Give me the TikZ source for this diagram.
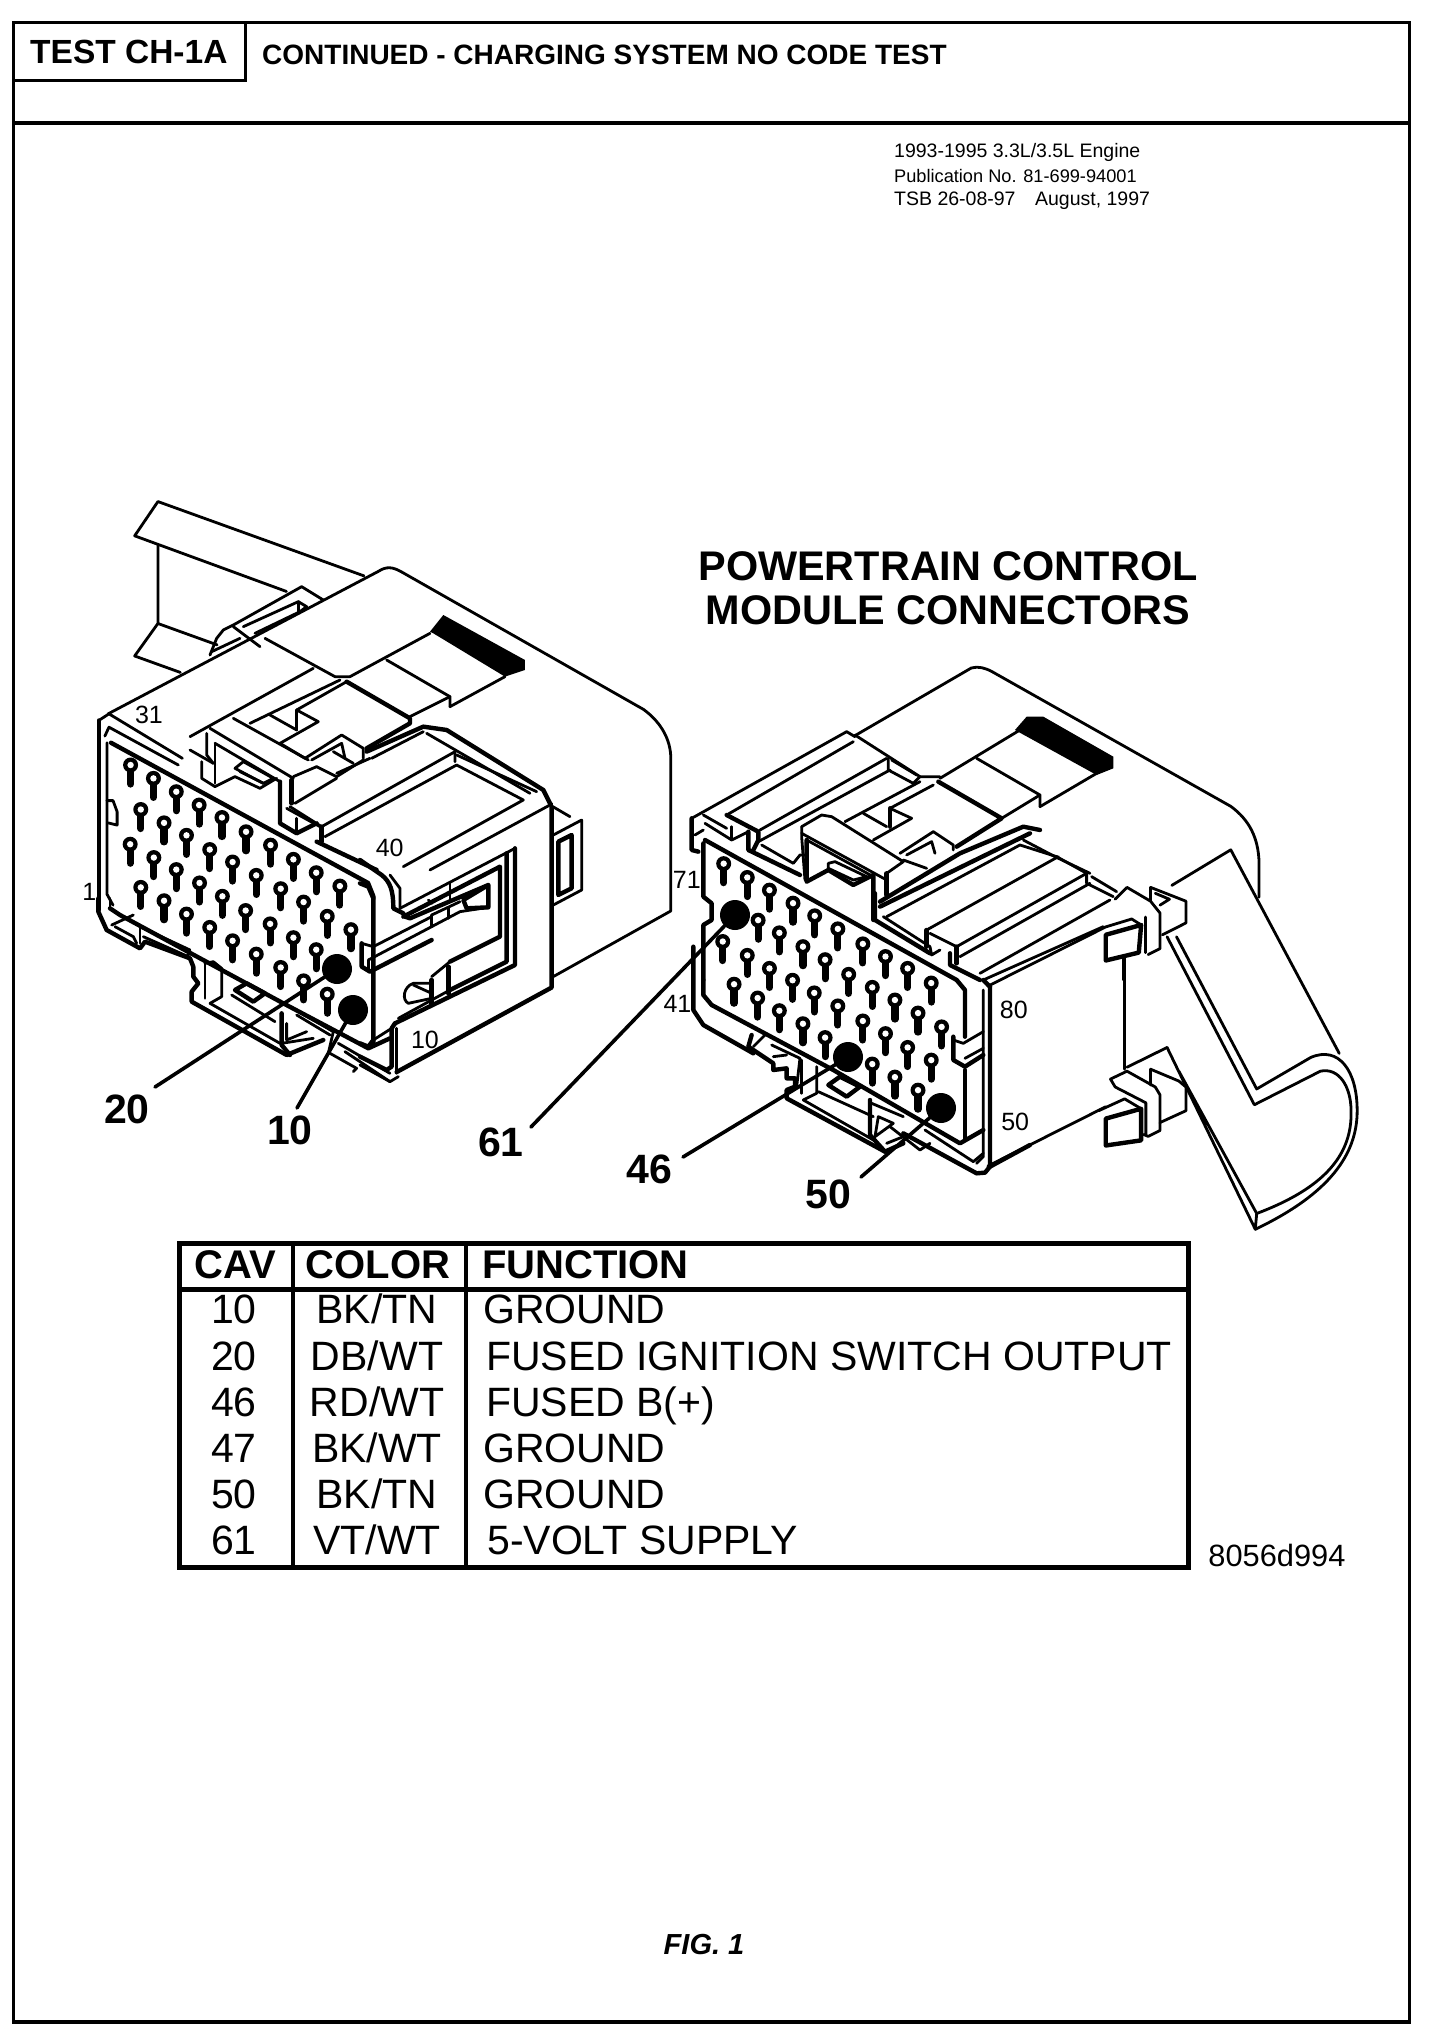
\documentclass[tikz,border=0pt]{standalone}
\usepackage{fontspec}
\setmainfont{Liberation Sans}
\tikzset{
	wire/.style={line width=2.8pt, line cap=round, line join=round},
	heavy/.style={line width=4.4pt, line cap=round, line join=round},
	leader/.style={line width=3.6pt, line cap=round},
	cavdot/.style={circle, fill=black, inner sep=0pt, minimum size=30pt},
	cavtag/.style={inner sep=0pt, font=\fontsize{41}{44}\bfseries\selectfont},
	numtag/.style={inner sep=0pt, font=\fontsize{25}{27}\selectfont},
	cell/.style={inner sep=0pt, anchor=base, font=\fontsize{41}{44}\selectfont},
	headcell/.style={inner sep=0pt, font=\fontsize{40}{44}\bfseries\selectfont},
	pubtext/.style={inner sep=0pt, anchor=west},
	third/.style={shift={#1}, x=0.3333pt, y=-0.3333pt},
	pinmark/.pic={
		\draw[line width=7.2pt, line cap=round] (0pt,-3pt) -- (0pt,-19pt);
		\fill (0pt,0pt) circle (7.5pt);
		\fill[white] (0pt,0pt) circle (3.2pt);
	}
}
\begin{document}
\begin{tikzpicture}[x=1pt, y=-1pt]
	\useasboundingbox (0,0) rectangle (1440,2034);
	
	%========================
	% Page frame and heading
	%========================
	\draw[line width=3pt] (13,23) rectangle (1409,2022);
	\draw[line width=4pt] (13,2022) -- (1409,2022);
	\draw[line width=4pt] (13,123) -- (1409,123);
	\draw[line width=3pt] (13,80) -- (245,80) -- (245,23);
	\node[inner sep=0pt, anchor=west, font=\fontsize{33.5}{36}\bfseries\selectfont] (testname) at (30,52) {TEST CH-1A};
	\node[inner sep=0pt, anchor=west, font=\fontsize{28}{30}\bfseries\selectfont] (testtitle) at (262,55) {CONTINUED - CHARGING SYSTEM NO CODE TEST};
	\node[pubtext, font=\fontsize{19.5}{20}\selectfont] (pubone) at (894,152) {1993-1995 3.3L/3.5L Engine};
	\node[pubtext, font=\fontsize{18.2}{20}\selectfont] (pubtwo) at (894,176) {Publication No. 81-699-94001};
	\node[pubtext, font=\fontsize{19.5}{20}\selectfont] (pubthree) at (894,201) {TSB 26-08-97\quad August, 1997};
	
	% diagram title
	\node[inner sep=0pt, font=\fontsize{41.4}{45}\bfseries\selectfont] (titleone) at (948,566) {POWERTRAIN CONTROL};
	\node[inner sep=0pt, font=\fontsize{41.4}{45}\bfseries\selectfont] (titletwo) at (948,610) {MODULE CONNECTORS};
	
	%========================
	% Left connector
	%========================
	\begin{scope}[shift={(60,480.2)}, x=0.408pt, y=-0.445pt]
		% strap
		\draw[wire] (745,215) -- (240,48) -- (183,125) -- (555,250);
		\draw[wire] (240,145) -- (240,322) -- (183,395) -- (295,432);
		\draw[wire] (240,322) -- (385,370);
		% housing
		\draw[wire] (118,525) -- (780,205) .. controls (800,193) and (815,195) .. (835,205) -- (1430,515) .. controls (1475,545) and (1497,585) .. (1497,625) -- (1497,968) -- (1210,1115);
		% side lug and panel edge
		\draw[heavy] (1205,735) -- (1205,1140) -- (825,1330);
		% front face
		\draw[heavy] (95,540) -- (95,965);
		\draw[wire] (95,540) -- (120,525) -- (300,625);
		\draw[wire] (110,575) -- (120,555) -- (290,640);
		\draw[heavy] (125,590) -- (755,905) -- (768,935) -- (768,1270);
		\draw[wire] (115,590) -- (115,930) -- (130,955);
		\draw[wire] (115,720) -- (130,720) -- (140,745) -- (140,775) -- (118,770);
		% pins
		\foreach \xpos/\ypos in {173/640,229/670,285/700,341/730,397/758,456/790,516/820,572/852,628/882,686/912,
			198/740,255/770,310/798,367/830,423/858,481/888,541/918,597/948,655/980,713/1010,
			172/818,230/848,285/875,342/905,398/935,455/967,515/997,572/1028,628/1055,
			198/915,255/945,310/975,367/1005,423/1035,481/1065,541/1095,597/1125,655/1155}
			\pic at (\xpos,\ypos) {pinmark};
		% cavity numbers
		\node[numtag] (numthirtyone) at (218,528) {31};
		\node[numtag] (numone) at (72,925) {1};
		\node[numtag] (numforty) at (808,826) {40};
	\end{scope}
	% cover and latches
	\begin{scope}[third={(190,570)}]
		\draw[wire] (60,255) -- (80,205) -- (100,180) -- (130,165) -- (335,50) -- (400,90);
		\draw[wire] (160,170) -- (325,95) -- (350,110) -- (330,125);
		\draw[wire] (195,190) -- (330,125);
		\draw[wire] (325,95) -- (325,130);
		\draw[wire] (130,170) -- (210,230);
		\draw[wire] (65,245) -- (150,205);
		\draw[wire] (225,205) -- (435,320) -- (480,320) -- (720,190);
		\fill (720,185) -- (760,135) -- (1005,270) -- (1005,300) -- (945,320) -- (730,190) -- cycle;
		\draw[wire] (945,320) -- (780,410);
		\draw[wire] (590,270) -- (780,380) -- (780,410);
		\draw[wire] (660,440) -- (780,380);
		\draw[heavy] (470,335) -- (660,445) -- (660,460) -- (530,535);
		\draw[wire] (0,500) -- (370,295);
		\draw[wire] (180,460) -- (450,330);
		\draw[wire] (240,435) -- (320,480);
		\draw[wire] (320,420) -- (385,455) -- (270,520);
		\draw[wire] (320,420) -- (320,480);
		\draw[wire] (320,420) -- (470,335);
		\draw[wire] (130,445) -- (355,570);
		\draw[wire] (270,520) -- (345,565);
		\draw[wire] (60,475) -- (310,625);
		\draw[wire] (50,490) -- (50,555) -- (70,580);
		\draw[wire] (0,540) -- (70,580);
		\draw[wire] (35,575) -- (35,625) -- (75,650) -- (135,620) -- (210,655) -- (260,625);
		\draw[wire] (75,520) -- (75,640);
		\draw[wire] (75,520) -- (270,635);
		\draw[wire] (135,595) -- (160,575) -- (250,625) -- (220,640) -- cycle;
		\draw[wire] (150,605) -- (220,640);
		\draw[heavy] (270,635) -- (270,760) -- (320,790) -- (380,760);
		\draw[heavy] (305,630) -- (305,700);
		\draw[wire] (310,620) -- (380,590);
		\draw[wire] (345,565) -- (455,495) -- (520,535) -- (520,565);
		\draw[wire] (365,570) -- (455,520) -- (465,565);
		\draw[wire] (380,590) -- (440,620) -- (520,570);
		\draw[wire] (430,545) -- (490,580);
		% ridge under the cover
		\draw[heavy] (530,545) -- (700,470) -- (770,480) -- (1060,660) -- (1080,700);
		\draw[wire] (545,565) -- (700,485);
		\draw[wire] (440,610) -- (540,565);
		\draw[wire] (315,700) -- (440,625);
		\draw[wire] (290,715) -- (390,770);
		\draw[wire] (320,745) -- (320,785);
		% slab on top
		\draw[wire] (395,770) -- (795,545) -- (795,575);
		\draw[wire] (405,800) -- (800,585);
		\draw[wire] (300,710) -- (395,770);
		\draw[heavy] (395,770) -- (395,815);
		\draw[wire] (710,490) -- (1020,670);
		\draw[wire] (800,555) -- (1040,665);
		\draw[wire] (800,585) -- (1000,690) -- (640,890);
		\draw[wire] (1080,705) -- (720,900);
		\draw[wire] (1080,705) -- (1140,740);
		\draw[heavy] (380,815) -- (560,900);
		\draw[wire] (1085,700) -- (1085,800);
	\end{scope}
	% side panel with its window
	\begin{scope}[third={(360,820)}]
		\draw[heavy] (0,120) -- (65,165) .. controls (90,185) and (100,210) .. (100,265) -- (130,280);
		\draw[wire] (90,165) -- (120,205) -- (120,265);
		\draw[heavy] (0,190) -- (25,200) -- (40,235);
		\draw[wire] (120,265) -- (465,85);
		\draw[heavy] (130,290) -- (420,140) -- (420,350) -- (270,425);
		\draw[heavy] (135,290) -- (150,295) -- (385,195) -- (385,262) -- (320,265) -- (310,240) -- (385,195);
		\draw[wire] (270,190) -- (270,240);
		\draw[wire] (205,240) -- (215,250);
		\draw[wire] (215,285) -- (215,320);
		\draw[wire] (265,265) -- (265,295);
		\draw[wire] (215,285) -- (300,245);
		\draw[wire] (215,320) -- (300,275) -- (385,262);
		\draw[heavy] (5,370) -- (5,440) -- (30,455) -- (215,360);
		\draw[wire] (5,370) -- (40,380) -- (215,290);
		\draw[wire] (25,420) -- (215,320);
		\draw[wire] (25,420) -- (25,455);
		\draw[heavy] (465,85) -- (465,435) -- (105,610);
		\draw[heavy] (440,100) -- (440,425) -- (270,510);
		\draw[wire] (270,510) -- (115,595);
		\draw[wire] (215,490) -- (160,490) .. controls (130,500) and (125,540) .. (145,550) -- (215,535);
		\draw[wire] (160,495) -- (215,520);
		\draw[heavy] (215,480) -- (215,555);
		\draw[heavy] (265,440) -- (265,520);
		\draw[wire] (215,470) -- (270,425);
		\draw[heavy] (40,660) -- (25,680) -- (0,670);
		\draw[wire] (40,660) -- (95,625);
		\draw[heavy] (105,610) -- (95,625) -- (95,740) -- (80,750) -- (0,710);
		\draw[wire] (110,625) -- (110,760);
		\draw[wire] (0,735) -- (90,785) -- (115,770);
		% lug
		\draw[wire] (580,45) -- (665,0) -- (665,210) -- (580,255);
		\draw[heavy] (595,65) -- (635,45) -- (635,205) -- (595,225) -- cycle;
		\node[numtag] (numtenside) at (195,660) {10};
	\end{scope}
	% lower edge and feet
	\begin{scope}[third={(90,900)}]
		\draw[heavy] (25,-5) -- (25,35) -- (50,90) -- (150,145) -- (165,125) -- (300,175) -- (310,200) -- (310,230) -- (325,250) -- (305,275) -- (305,305) -- (590,465) -- (700,420);
		\draw[wire] (60,-5) -- (60,25);
		\draw[wire] (65,75) -- (130,45);
		\draw[wire] (75,80) -- (130,110) -- (140,130);
		\draw[wire] (150,80) -- (150,130);
		\draw[wire] (150,80) -- (300,150);
		\draw[wire] (160,110) -- (295,170) -- (295,150);
		\draw[heavy] (60,25) -- (90,45) -- (580,310) -- (835,445) -- (900,415);
		\draw[wire] (345,190) -- (345,295);
		\draw[wire] (345,190) -- (370,185) -- (395,205) -- (395,290) -- (360,310);
		\draw[heavy] (435,270) -- (470,250) -- (525,280) -- (490,305) -- cycle;
		\draw[wire] (360,310) -- (570,430);
		\draw[wire] (425,285) -- (555,365);
		\draw[heavy] (575,340) -- (575,435) -- (600,465);
		\draw[wire] (600,320) -- (730,395) -- (715,460);
		\draw[wire] (620,345) -- (720,405);
		\draw[wire] (590,370) -- (590,420) -- (650,395);
		\draw[wire] (575,430) -- (670,415);
		\draw[wire] (720,460) -- (800,505) -- (790,515);
		\draw[wire] (745,430) -- (900,520);
		\draw[wire] (765,455) -- (900,545);
	\end{scope}
	
	%========================
	% Right connector
	%========================
	\begin{scope}[shift={(660,640.3)}, x=0.4717pt, y=-0.3953pt]
		% housing
		\draw[wire] (415,240) -- (660,70) .. controls (675,65) and (690,70) .. (705,80) -- (1210,420) .. controls (1250,455) and (1268,500) .. (1270,560) -- (1270,650);
		% strap
		\draw[wire] (1085,620) -- (1210,530) -- (1440,1045);
		\draw[wire] (1075,750) -- (1260,1175) -- (1400,1090) .. controls (1440,1080) and (1465,1130) .. (1465,1190) .. controls (1468,1300) and (1410,1385) .. (1265,1450);
		\draw[wire] (1095,750) -- (1265,1135) -- (1380,1055) .. controls (1440,1025) and (1478,1090) .. (1478,1190) .. controls (1478,1300) and (1420,1400) .. (1262,1490);
		\draw[wire] (1075,1030) -- (1262,1490) -- (1265,1450) -- (1100,1090);
		\draw[wire] (990,1080) -- (1075,1030);
		% upper clip
		\draw[wire] (965,655) -- (990,625) -- (1040,660) -- (1060,690) -- (1060,780) -- (1035,795);
		\draw[wire] (1040,660) -- (1040,625) -- (1115,660) -- (1115,715) -- (1065,745);
		\draw[wire] (1050,640) -- (1080,655) -- (1060,670);
		\draw[heavy] (945,745) -- (945,810) -- (1015,790) -- (1020,720) -- cycle;
		\draw[wire] (945,725) -- (1000,705) -- (1020,720);
		\draw[wire] (1030,700) -- (1030,790);
		% lower clip
		\draw[wire] (955,1110) -- (990,1090) -- (1050,1130) -- (1060,1150) -- (1060,1240) -- (1035,1255) -- (1025,1250);
		\draw[wire] (955,1110) -- (965,1130) -- (1030,1170) -- (1030,1250);
		\draw[wire] (1040,1125) -- (1040,1085) -- (1100,1115) -- (1115,1130) -- (1115,1190) -- (1060,1220);
		\draw[heavy] (945,1210) -- (945,1278) -- (1020,1265) -- (1020,1185) -- cycle;
		\draw[wire] (930,1190) -- (985,1160) -- (1020,1185);
		% side panel
		\draw[wire] (695,875) -- (945,725);
		\draw[wire] (695,1330) -- (945,1180);
		\draw[wire] (985,800) -- (985,1085);
		% pins
		\foreach \xpos/\ypos in {135/565,185/600,232/632,282/665,328/697,377/730,430/768,478/800,525/830,575/867,
			208/708,253/740,303/775,350/808,400/845,450/878,498/910,547/943,597/978,
			133/762,185/797,232/830,281/860,327/892,377/925,430/963,478/995,525/1030,575/1062,
			157/870,207/905,253/937,303/970,350/1005,450/1072,498/1105,547/1138}
			\pic at (\xpos,\ypos) {pinmark};
		% cavity numbers
		\node[numtag] (numseventyone) at (57,605) {71};
		\node[numtag] (numfortyone) at (37,920) {41};
		\node[numtag] (numeighty) at (750,935) {80};
		\node[numtag] (numfiftyside) at (753,1218) {50};
	\end{scope}
	% cover and ridges
	\begin{scope}[third={(690,720)}]
		\draw[wire] (750,175) -- (990,30);
		\fill (975,30) -- (1010,-10) -- (1060,-10) -- (1270,110) -- (1270,145) -- (1220,165) -- cycle;
		\draw[wire] (1220,160) -- (1050,260);
		\draw[wire] (860,115) -- (1050,225) -- (1050,260);
		\draw[wire] (935,295) -- (1050,225);
		\draw[heavy] (745,185) -- (935,295) -- (800,380);
		\draw[wire] (495,45) -- (690,170) -- (750,170);
		\draw[wire] (5,295) -- (470,35) -- (495,50);
		\draw[wire] (110,285) -- (490,65);
		\draw[heavy] (5,295) -- (5,390) -- (25,395);
		\draw[wire] (40,330) -- (15,345);
		\draw[wire] (40,285) -- (110,325);
		\draw[wire] (45,310) -- (125,360) -- (175,335);
		\draw[wire] (125,320) -- (125,360);
		\draw[heavy] (110,285) -- (205,335) -- (205,360) -- (190,390);
		\draw[heavy] (175,335) -- (175,390) -- (330,465);
		\draw[wire] (590,115) -- (210,330);
		\draw[wire] (600,150) -- (205,365);
		\draw[wire] (595,115) -- (595,150) -- (670,190) -- (690,170);
		\draw[wire] (605,120) -- (680,165);
		\draw[wire] (215,375) -- (310,430) -- (330,405) -- (345,405);
		\draw[wire] (335,320) -- (395,285) -- (425,290) -- (640,425) -- (590,460);
		\draw[heavy] (590,460) -- (590,525);
		\draw[wire] (335,320) -- (335,350) -- (345,480);
		\draw[wire] (335,340) -- (590,480);
		\draw[heavy] (350,360) -- (350,485) -- (415,450) -- (490,495) -- (550,465) -- (550,600);
		\draw[wire] (350,360) -- (550,470);
		\draw[wire] (415,430) -- (435,425) -- (530,470) -- (490,480) -- (415,445) -- cycle;
		\draw[wire] (465,305) -- (690,185);
		\draw[wire] (550,360) -- (665,295);
		\draw[wire] (600,265) -- (665,295);
		\draw[heavy] (600,265) -- (600,320);
		\draw[wire] (600,265) -- (730,195);
		\draw[wire] (520,280) -- (590,320);
		\draw[wire] (630,400) -- (730,335) -- (790,375) -- (790,390);
		\draw[wire] (650,405) -- (725,365) -- (735,400);
		\draw[wire] (640,420) -- (710,445);
		\draw[heavy] (570,545) -- (810,400) -- (1000,320) -- (1050,330);
		\draw[heavy] (570,560) -- (1020,340);
		\draw[wire] (590,590) -- (990,375) -- (1100,410);
		\draw[wire] (1000,360) -- (1095,410) -- (1200,460);
		\draw[wire] (580,590) -- (720,680);
		% slab
		\draw[wire] (710,630) -- (1105,410);
		\draw[heavy] (710,630) -- (710,680);
		\draw[wire] (720,640) -- (800,680) -- (1190,460);
		\draw[heavy] (800,680) -- (800,730);
		\draw[wire] (810,710) -- (1200,490);
		\draw[wire] (1190,460) -- (1190,490) -- (1270,530);
		\draw[wire] (870,760) -- (1260,540);
		\draw[wire] (880,780) -- (1240,620);
		\draw[wire] (1100,410) -- (1190,460);
		\draw[wire] (1205,470) -- (1280,515);
		% rim and face
		\draw[heavy] (555,520) -- (555,600) -- (720,700);
		\draw[wire] (720,680) -- (725,705) -- (750,690);
		\draw[heavy] (780,700) -- (780,735) -- (870,780);
		\draw[heavy] (45,360) -- (800,780);
		\draw[heavy] (40,370) -- (40,530) -- (65,550) -- (65,600) -- (40,615) -- (40,780);
		\draw[wire] (1300,710) -- (1300,780);
	\end{scope}
	% lower edge and feet
	\begin{scope}[third={(690,980)}]
		\draw[heavy] (10,-100) -- (10,90) -- (40,135) -- (190,220);
		\draw[heavy] (40,0) -- (40,45) -- (65,75) -- (430,270) -- (810,490) -- (880,450);
		\draw[heavy] (185,165) -- (175,200) -- (250,250) -- (250,270) -- (290,265) -- (290,295) -- (315,295) -- (315,320) -- (290,330) -- (290,355) -- (585,515) -- (640,490);
		\draw[wire] (190,200) -- (225,165);
		\draw[wire] (245,195) -- (330,235) -- (320,320);
		\draw[wire] (250,230) -- (290,225);
		\draw[wire] (335,240) -- (335,340);
		\draw[wire] (380,260) -- (380,340) -- (340,360);
		\draw[heavy] (415,315) -- (450,290) -- (510,320) -- (470,350) -- cycle;
		\draw[wire] (385,335) -- (550,410);
		\draw[wire] (340,360) -- (550,480);
		\draw[heavy] (540,360) -- (540,465) -- (585,515);
		\draw[wire] (545,370) -- (640,410);
		\draw[wire] (565,410) -- (610,430) -- (555,470) -- cycle;
		\draw[wire] (590,490) -- (640,470);
		\draw[wire] (600,440) -- (690,510) -- (720,490);
		\draw[wire] (705,450) -- (850,545) -- (880,520);
		\draw[heavy] (640,460) -- (860,580) -- (885,578) -- (900,560);
		\draw[heavy] (800,0) -- (825,30) -- (825,170);
		\draw[heavy] (825,270) -- (825,480);
		\draw[heavy] (790,170) -- (790,240) -- (825,260) -- (880,225);
		\draw[wire] (790,180) -- (820,190) -- (880,155);
		\draw[wire] (880,205) -- (825,235);
		\draw[wire] (880,30) -- (880,530) -- (860,550);
		\draw[heavy] (900,20) -- (900,560) -- (1020,495);
		\draw[heavy] (880,0) -- (900,20);
	\end{scope}
	
	%========================
	% Call-outs
	%========================
	\node[cavdot] (dottwenty) at (337,969) {};
	\node[cavdot] (dotten) at (353,1010) {};
	\node[cavdot] (dotsixtyone) at (735,915) {};
	\node[cavdot] (dotfortysix) at (848,1057) {};
	\node[cavdot] (dotfifty) at (941,1108) {};
	\node[cavtag] (lbltwenty) at (127,1109) {20};
	\node[cavtag] (lblten) at (290,1130) {10};
	\node[cavtag] (lblsixtyone) at (501,1142) {61};
	\node[cavtag] (lblfortysix) at (649,1169) {46};
	\node[cavtag] (lblfifty) at (828,1194) {50};
	\coordinate (endtwenty) at (155,1087);
	\coordinate (endten) at (297,1108);
	\coordinate (endsixtyone) at (531,1127);
	\coordinate (endfortysix) at (683,1157);
	\coordinate (endfifty) at (861,1177);
	\draw[leader] (dottwenty.center) -- (endtwenty);
	\draw[leader] (dotten.center) -- (endten);
	\draw[leader] (dotsixtyone.center) -- (endsixtyone);
	\draw[leader] (dotfortysix.center) -- (endfortysix);
	\draw[leader] (dotfifty.center) -- (endfifty);
	
	%========================
	% Table
	%========================
	\draw[line width=5pt] (179,1243) rectangle (1188,1567);
	\draw[line width=5pt] (179,1289) -- (1188,1289);
	\draw[line width=3.5pt] (293,1243) -- (293,1567);
	\draw[line width=3.5pt] (466,1243) -- (466,1567);
	\node[headcell] (headcav) at (235,1265) {CAV};
	\node[headcell] (headcolor) at (378,1265) {COLOR};
	\node[headcell, anchor=west] (headfunc) at (482,1265) {FUNCTION};
	\foreach \row/\cav/\wire/\func/\xfunc/\ypos in {
		a/10/{BK/TN}/GROUND/483/1323,
		b/20/{DB/WT}/FUSED IGNITION SWITCH OUTPUT/486/1370,
		c/46/{RD/WT}/FUSED B(+)/486/1416,
		d/47/{BK/WT}/GROUND/483/1462,
		e/50/{BK/TN}/GROUND/483/1508,
		f/61/{VT/WT}/5-VOLT SUPPLY/487/1554}{
		\node[cell] (cav\row) at (234,\ypos) {\cav};
		\node[cell] (wire\row) at (377,\ypos) {\wire};
		\node[cell, anchor=base west] (func\row) at (\xfunc,\ypos) {\func};
	}
	\node[inner sep=0pt, font=\fontsize{30.8}{32}\selectfont] (figcode) at (1277,1555) {8056d994};
	
	% caption
	\node[inner sep=0pt, font=\fontsize{29}{31}\bfseries\itshape\selectfont] (figcaption) at (704,1944) {FIG. 1};
\end{tikzpicture}
\end{document}
